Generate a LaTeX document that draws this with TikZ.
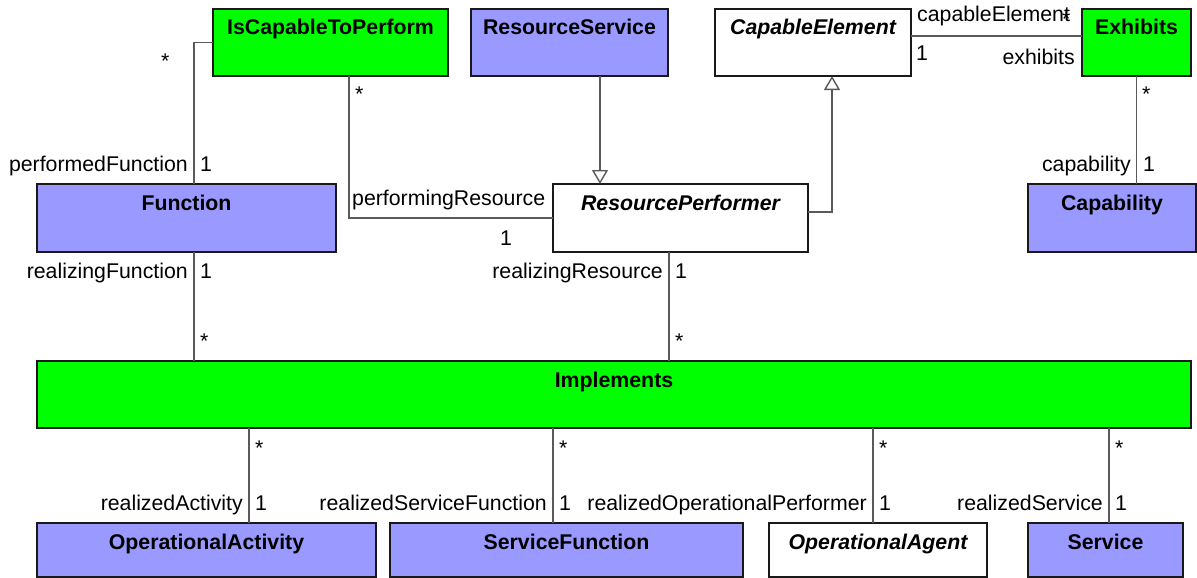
\documentclass[tikz,border=0pt]{standalone}
\usepackage{fontspec}
\setmainfont{Liberation Sans}
\usetikzlibrary{arrows.meta}
\definecolor{umlblue}{HTML}{9999FF}
\definecolor{umlgreen}{HTML}{00FF00}
\definecolor{conngray}{HTML}{5A5A5A}
\begin{document}
\begin{tikzpicture}[x=1pt,y=-1pt,
  font=\fontsize{21.3}{25}\selectfont,
  umlbox/.style={draw=black!90, line width=1.5pt, inner sep=0pt, outer sep=0pt,
    anchor=north west, text height=26pt, font=\fontsize{21.3}{25}\selectfont\bfseries},
  abstractbox/.style={umlbox, fill=white, font=\fontsize{21.3}{25}\selectfont\bfseries\itshape},
  conn/.style={draw=conngray, line width=1.4pt},
  gen/.style={conn, -{Triangle[open, length=14pt, width=16pt, fill=white]}},
  lblE/.style={anchor=base east, inner sep=0pt},
  lblW/.style={anchor=base west, inner sep=0pt}]
\useasboundingbox (0,0) rectangle (1197,578);

% boxes
\node[umlbox, fill=umlgreen, minimum width=235pt, text depth=41pt] (ictp) at (213,9) {IsCapableToPerform};
\node[umlbox, fill=umlblue, minimum width=197pt, text depth=41pt] (rs) at (471,9) {ResourceService};
\node[abstractbox, minimum width=196pt, text depth=41pt] (ce) at (715,9) {CapableElement};
\node[umlbox, fill=umlgreen, minimum width=109pt, text depth=41pt] (ex) at (1082,9) {Exhibits};
\node[umlbox, fill=umlblue, minimum width=299pt, text depth=42pt] (fn) at (37,184) {Function};
\node[abstractbox, minimum width=255pt, text depth=42pt] (rp) at (553,184) {ResourcePerformer};
\node[umlbox, fill=umlblue, minimum width=168pt, text depth=42pt] (cap) at (1028,184) {Capability};
\node[umlbox, fill=umlgreen, minimum width=1154pt, text depth=41pt] (impl) at (37,361) {Implements};
\node[umlbox, fill=umlblue, minimum width=339pt, text depth=28pt] (oa) at (37,523) {OperationalActivity};
\node[umlbox, fill=umlblue, minimum width=353pt, text depth=28pt] (sf) at (390,523) {ServiceFunction};
\node[abstractbox, minimum width=218pt, text depth=28pt] (oag) at (769,523) {OperationalAgent};
\node[umlbox, fill=umlblue, minimum width=155pt, text depth=28pt] (svc) at (1028,523) {Service};

% connectors
\draw[conn] (ictp.west) -| ([xshift=157pt]fn.north west);
\draw[conn] ([xshift=136pt]ictp.south west) |- (rp.west);
\draw[gen] ([xshift=129pt]rs.south west) -- ([xshift=47pt]rp.north west);
\draw[gen] ([yshift=-28pt]rp.north east) -| ([xshift=117pt]ce.south west);
\draw[conn] ([yshift=-27pt]ce.north east) -- ([yshift=-27pt]ex.north west);
\draw[conn] (ex.south) -- (ex.south |- cap.north);
\draw[conn] ([xshift=157pt]fn.south west) -- ([xshift=157pt]fn.south west |- impl.north);
\draw[conn] ([xshift=116pt]rp.south west) -- ([xshift=116pt]rp.south west |- impl.north);
\draw[conn] ([xshift=212pt]oa.north west |- impl.south) -- ([xshift=212pt]oa.north west);
\draw[conn] ([xshift=163pt]sf.north west |- impl.south) -- ([xshift=163pt]sf.north west);
\draw[conn] ([xshift=104pt]oag.north west |- impl.south) -- ([xshift=104pt]oag.north west);
\draw[conn] ([xshift=81pt]svc.north west |- impl.south) -- ([xshift=81pt]svc.north west);

% end labels
\node[lblW] (s1) at (161,69) {*};
\node[lblE] (l2) at (188,171) {performedFunction};
\node[lblW] (m2) at (200,171) {1};
\node[lblW] (s3) at (355,102) {*};
\node[lblW] (l4) at (352,205) {performingResource};
\node[lblW] (m5) at (500,245) {1};
\node[lblE] (l6) at (188,278) {realizingFunction};
\node[lblW] (m6) at (200,278) {1};
\node[lblW] (l7) at (917,22) {capableElement};
\node[lblW] (s8) at (1062,27) {*};
\node[lblW] (m9) at (916,60) {1};
\node[lblE] (l10) at (1075,65) {exhibits};
\node[lblW] (s11) at (1142,102) {*};
\node[lblE] (l12) at (1131,171) {capability};
\node[lblW] (m12) at (1143,171) {1};
\node[lblE] (l13) at (663,278) {realizingResource};
\node[lblW] (m13) at (675,278) {1};
\node[lblW] (s14) at (200,348) {*};
\node[lblW] (s15) at (675,348) {*};
\node[lblW] (s16) at (255,455) {*};
\node[lblW] (s17) at (559,455) {*};
\node[lblW] (s18) at (879,455) {*};
\node[lblW] (s19) at (1115,455) {*};
\node[lblE] (l20) at (243,510) {realizedActivity};
\node[lblW] (m20) at (255,510) {1};
\node[lblE] (l21) at (547,510) {realizedServiceFunction};
\node[lblW] (m21) at (559,510) {1};
\node[lblE] (l22) at (867,510) {realizedOperationalPerformer};
\node[lblW] (m22) at (879,510) {1};
\node[lblE] (l23) at (1103,510) {realizedService};
\node[lblW] (m23) at (1115,510) {1};
\end{tikzpicture}
\end{document}
